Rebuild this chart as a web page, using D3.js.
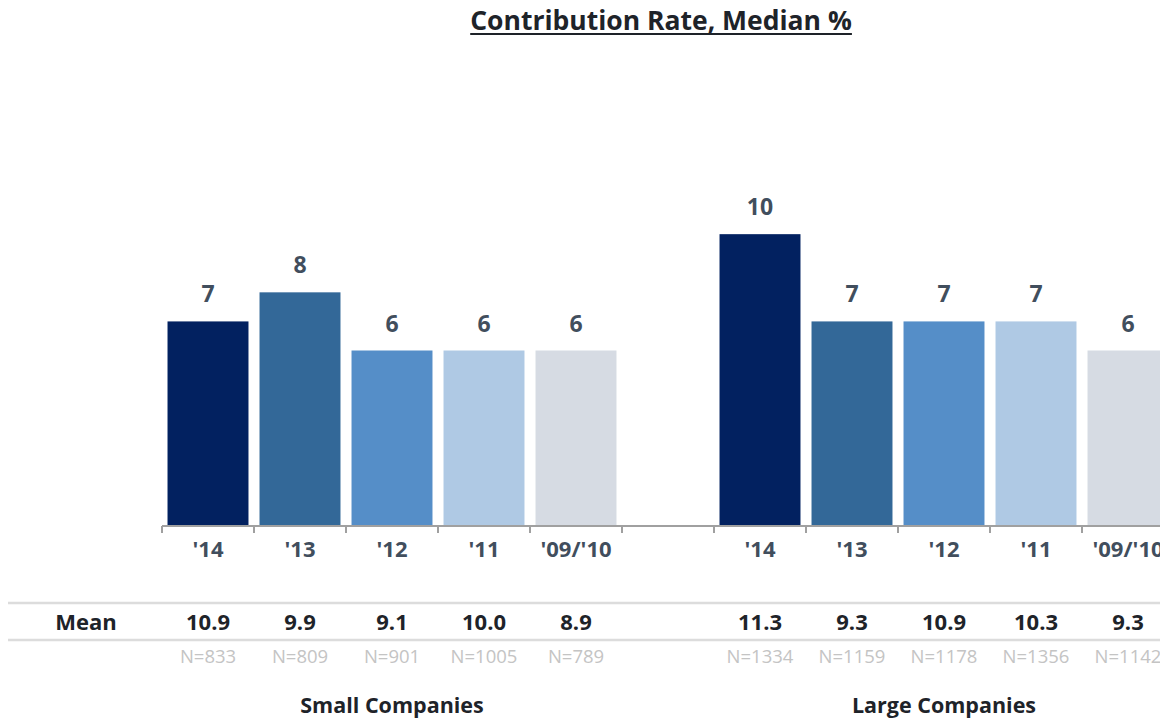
<!DOCTYPE html>
<html>
<head>
<meta charset="utf-8">
<script src="https://cdn.jsdelivr.net/npm/d3@7"></script>
<style>
  body { margin: 0; background: #fff; }
  svg { display: block; font-family: "Open Sans", sans-serif; }
</style>
</head>
<body>
<div id="chart"></div>
<script>
// categories along the axis, one blank slot between the two groups
var slots = ["s14", "s13", "s12", "s11", "s0910", "gap", "l14", "l13", "l12", "l11", "l0910"];
var tickLabels = ["'14", "'13", "'12", "'11", "'09/'10", "", "'14", "'13", "'12", "'11", "'09/'10"];
var medians = [7, 8, 6, 6, 6, null, 10, 7, 7, 7, 6];
var means = ["10.9", "9.9", "9.1", "10.0", "8.9", "", "11.3", "9.3", "10.9", "10.3", "9.3"];
var counts = ["N=833", "N=809", "N=901", "N=1005", "N=789", "", "N=1334", "N=1159", "N=1178", "N=1356", "N=1142"];
var groups = ["Small Companies", "Large Companies"];
var groupSlots = ["s12", "l12"];
var yearColours = ["#022160", "#336898", "#558ec8", "#afc9e4", "#d6dbe3"];

var width = 1160, height = 718;

var svg = d3.select("#chart")
	.append("svg")
	.attr("width", width)
	.attr("height", height);

// x: one band per slot, ticks drawn at the band edges like Excel
var x = d3.scaleBand()
	.domain(slots)
	.range([162, 1174])
	.paddingInner(0.12)
	.paddingOuter(0.06);

var y = d3.scaleLinear()
	.domain([0, 12])
	.range([525, 176]);

// title, underlined by hand so the rule sits like the original
var title = svg.append("text")
	.attr("x", 661)
	.attr("y", 30)
	.attr("text-anchor", "middle")
	.attr("font-size", "26.5px")
	.attr("font-weight", "bold")
	.attr("fill", "#1e2329")
	.text("Contribution Rate, Median %");
var tb = title.node().getBBox();
svg.append("line")
	.attr("x1", tb.x)
	.attr("x2", tb.x + tb.width)
	.attr("y1", 34)
	.attr("y2", 34)
	.attr("stroke", "#1e2329")
	.attr("stroke-width", 2);

var barData = slots.map(function(s, i) {
	return { slot: s, value: medians[i], colour: yearColours[i % 6] };
}).filter(function(d) { return d.value !== null; });

// bars
svg.append("g")
	.attr("class", "bars")
	.selectAll("rect")
	.data(barData)
	.enter()
	.append("rect")
	.attr("x", function(d) { return x(d.slot); })
	.attr("width", x.bandwidth())
	.attr("y", function(d) { return y(d.value); })
	.attr("height", function(d) { return y(0) - y(d.value); })
	.attr("fill", function(d) { return d.colour; });

// value labels above the bars
svg.append("g")
	.attr("class", "labels")
	.selectAll("text")
	.data(barData)
	.enter()
	.append("text")
	.attr("x", function(d) { return x(d.slot) + x.bandwidth() / 2; })
	.attr("y", function(d) { return y(d.value) - 19; })
	.attr("text-anchor", "middle")
	.attr("font-size", "23px")
	.attr("font-weight", "bold")
	.attr("fill", "#414e5d")
	.text(function(d) { return d.value; });

// axis line and boundary ticks
var axisG = svg.append("g").attr("class", "x axis");
var step = x.step();
var x0 = x(slots[0]) - x.paddingOuter() * step;
axisG.append("line")
	.attr("x1", x0)
	.attr("x2", width)
	.attr("y1", y(0) + 1)
	.attr("y2", y(0) + 1)
	.attr("stroke", "#a0a0a0")
	.attr("stroke-width", 2);
axisG.selectAll(".tick")
	.data(d3.range(slots.length + 1))
	.enter()
	.append("line")
	.attr("class", "tick")
	.attr("x1", function(i) { return x0 + i * step; })
	.attr("x2", function(i) { return x0 + i * step; })
	.attr("y1", y(0) + 1)
	.attr("y2", y(0) + 8)
	.attr("stroke", "#a0a0a0")
	.attr("stroke-width", 2);
axisG.selectAll(".tick-label")
	.data(slots)
	.enter()
	.append("text")
	.attr("class", "tick-label")
	.attr("x", function(d) { return x(d) + x.bandwidth() / 2; })
	.attr("y", 557)
	.attr("text-anchor", "middle")
	.attr("font-size", "22px")
	.attr("font-weight", "bold")
	.attr("fill", "#414e5d")
	.text(function(d, i) { return tickLabels[i]; });

// mean table
var table = svg.append("g").attr("class", "table");
[603, 640].forEach(function(ly) {
	table.append("line")
		.attr("x1", 8)
		.attr("x2", width)
		.attr("y1", ly)
		.attr("y2", ly)
		.attr("stroke", "#dcdcdc")
		.attr("stroke-width", 2.5);
});
table.append("text")
	.attr("x", 86)
	.attr("y", 630)
	.attr("text-anchor", "middle")
	.attr("font-size", "22px")
	.attr("font-weight", "bold")
	.attr("fill", "#1e2329")
	.text("Mean");
table.selectAll(".mean")
	.data(slots)
	.enter()
	.append("text")
	.attr("class", "mean")
	.attr("x", function(d) { return x(d) + x.bandwidth() / 2; })
	.attr("y", 630)
	.attr("text-anchor", "middle")
	.attr("font-size", "22px")
	.attr("font-weight", "bold")
	.attr("fill", "#1e2329")
	.text(function(d, i) { return means[i]; });
table.selectAll(".count")
	.data(slots)
	.enter()
	.append("text")
	.attr("class", "count")
	.attr("x", function(d) { return x(d) + x.bandwidth() / 2; })
	.attr("y", 663)
	.attr("text-anchor", "middle")
	.attr("font-size", "18.5px")
	.attr("fill", "#c4c4c4")
	.text(function(d, i) { return counts[i]; });

// group names
svg.selectAll(".group")
	.data(groups)
	.enter()
	.append("text")
	.attr("class", "group")
	.attr("x", function(d, i) { return x(groupSlots[i]) + x.bandwidth() / 2; })
	.attr("y", 713)
	.attr("text-anchor", "middle")
	.attr("font-size", "21.5px")
	.attr("font-weight", "bold")
	.attr("fill", "#1e2329")
	.text(function(d) { return d; });
</script>
</body>
</html>
